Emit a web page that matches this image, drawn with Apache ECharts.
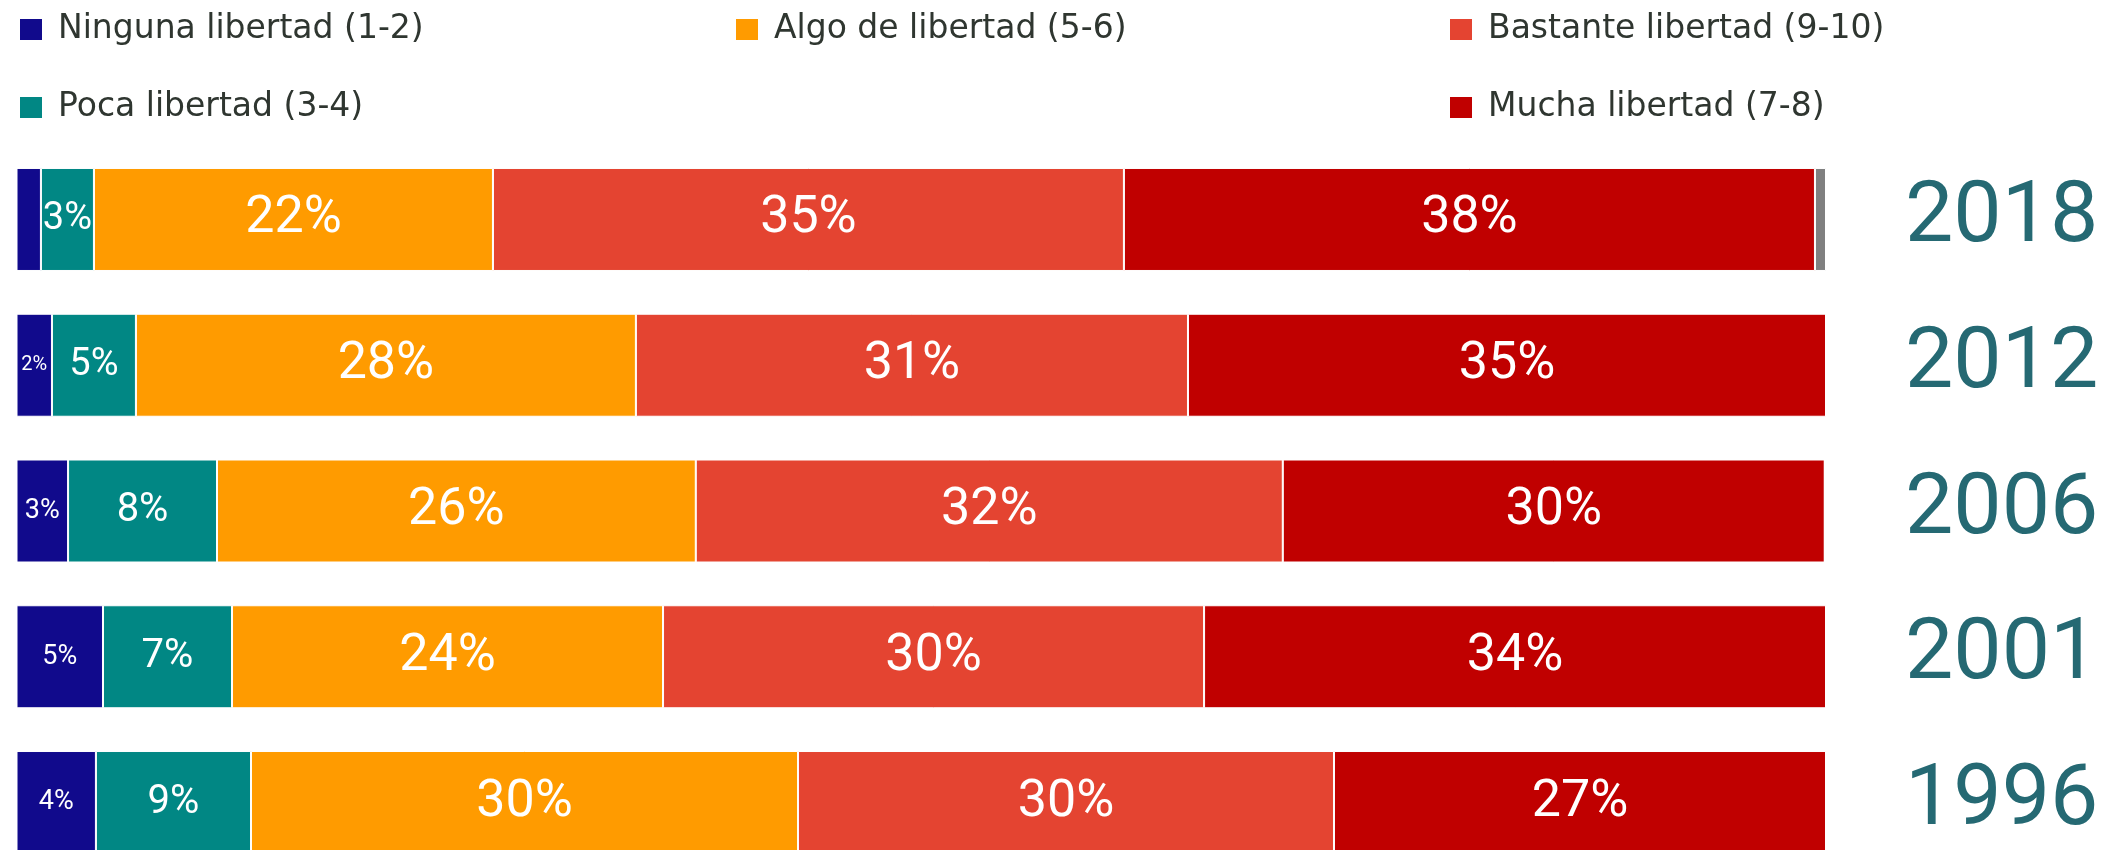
<!DOCTYPE html>
<html>
<head>
<meta charset="utf-8">
<script src="https://cdn.jsdelivr.net/npm/echarts@6/dist/echarts.min.js"></script>
<style>
  html, body { margin: 0; padding: 0; background: #fff; }
  #main { width: 2121px; height: 850px; }
</style>
</head>
<body>
<div id="main"></div>
<script>
var years = ["2018", "2012", "2006", "2001", "1996"];
var ninguna = [1.35, 1.96, 2.85, 4.78, 4.39];
var poca = [2.93, 4.64, 8.23, 7.13, 8.57];
var algo = [22.05, 27.63, 26.46, 23.82, 30.23];
var bastante = [34.87, 30.51, 32.44, 29.9, 29.62];
var mucha = [38.19, 35.26, 29.95, 34.37, 27.19];
var nsnc = [0.61, 0, 0, 0, 0];

var names = ["Ninguna libertad (1-2)", "Poca libertad (3-4)", "Algo de libertad (5-6)",
  "Bastante libertad (9-10)", "Mucha libertad (7-8)"];
var colors = ["#110a8c", "#018784", "#ff9b00", "#e44431", "#c00000"];
var labelSizes = [27, 40, 52, 52, 52];

window.onload = function () {
  var chartDom = document.getElementById("main");
  var myChart = echarts.init(chartDom);
  var option;

  function makeData(values, baseSize) {
    return values.map(function (v) {
      var size = baseSize;
      if (v < 2) size = 20;
      else if (baseSize === 40 && v < 6) size = 38;
      return {
        value: v,
        label: { show: v >= 1.5, fontSize: size }
      };
    });
  }

  var series = [ninguna, poca, algo, bastante, mucha].map(function (vals, i) {
    return {
      name: names[i],
      type: "bar",
      stack: "total",
      barWidth: 103,
      itemStyle: { color: colors[i], borderColor: "#fff", borderWidth: 1 },
      label: {
        show: true,
        position: "inside",
        color: "#fff",
        fontFamily: "Roboto",
        formatter: function (p) { return Math.round(p.value) + "%"; }
      },
      data: makeData(vals, labelSizes[i])
    };
  });

  series.push({
    name: "NS/NC",
    type: "bar",
    stack: "total",
    barWidth: 103,
    itemStyle: { color: "#808080", borderColor: "#fff", borderWidth: 1 },
    label: { show: false },
    data: nsnc
  });

  var legendBase = {
    orient: "vertical",
    icon: "rect",
    itemWidth: 24,
    itemHeight: 23,
    itemGap: 45,
    top: 8,
    selectedMode: false,
    textStyle: {
      fontFamily: "DejaVu Sans",
      fontSize: 33,
      color: "#2f3630",
      padding: [0, 0, 0, 10]
    }
  };

  option = {
    animation: false,
    color: colors,
    legend: [
      Object.assign({}, legendBase, { left: 13, data: [names[0], names[1]] }),
      Object.assign({}, legendBase, { left: 729, data: [names[2]] }),
      Object.assign({}, legendBase, { left: 1443, data: [names[3], names[4]] })
    ],
    grid: {
      left: 16.5,
      right: 295,
      top: 146.6,
      height: 728.8,
      containLabel: false,
      outerBoundsMode: "none"
    },
    xAxis: {
      type: "value",
      min: 0,
      max: 100,
      show: false
    },
    yAxis: {
      type: "category",
      data: years,
      inverse: true,
      position: "right",
      axisLine: { show: false },
      axisTick: { show: false },
      splitLine: { show: false },
      axisLabel: {
        margin: 79,
        padding: [12, 0, 0, 0],
        fontFamily: "Roboto",
        fontSize: 86,
        color: "#256973"
      }
    },
    series: series
  };

  option && myChart.setOption(option);
};
</script>
</body>
</html>
